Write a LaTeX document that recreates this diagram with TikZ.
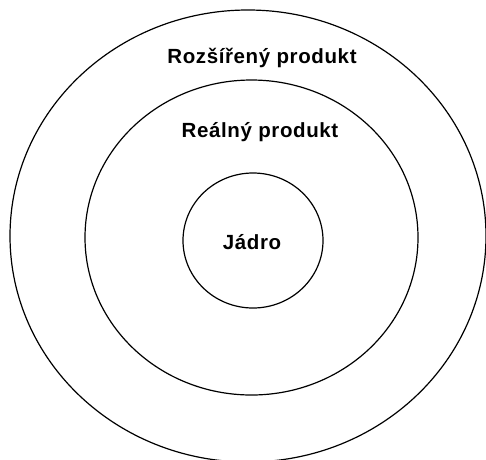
\documentclass[tikz,border=0pt]{standalone}
\usepackage{fontspec}
\setmainfont{Liberation Sans}
\newfontfamily\lblfont[LetterSpace=3]{Liberation Sans}
\begin{document}
\begin{tikzpicture}[x=1pt,y=-1pt,
  ring/.style={draw=black,line width=1.2pt},
  lbl/.style={font=\lblfont\fontsize{20.5}{23}\selectfont\bfseries,text=black,inner sep=0pt,anchor=base}]
\useasboundingbox (0,0) rectangle (486,459);
\clip (0,0) rectangle (486,459);
\coordinate (co) at (248,236);
\coordinate (cm) at (251.5,237.5);
\coordinate (ci) at (253,240.5);
\draw[ring] (co) ellipse [x radius=238, y radius=226];
\draw[ring] (cm) ellipse [x radius=166.5, y radius=157.5];
\draw[ring] (ci) ellipse [x radius=70, y radius=67.5];
\node[lbl] (ext) at (262,63) {Rozšířený produkt};
\node[lbl] (real) at (260,137) {Reálný produkt};
\node[lbl] (core) at (252,249) {Jádro};
\end{tikzpicture}
\end{document}
